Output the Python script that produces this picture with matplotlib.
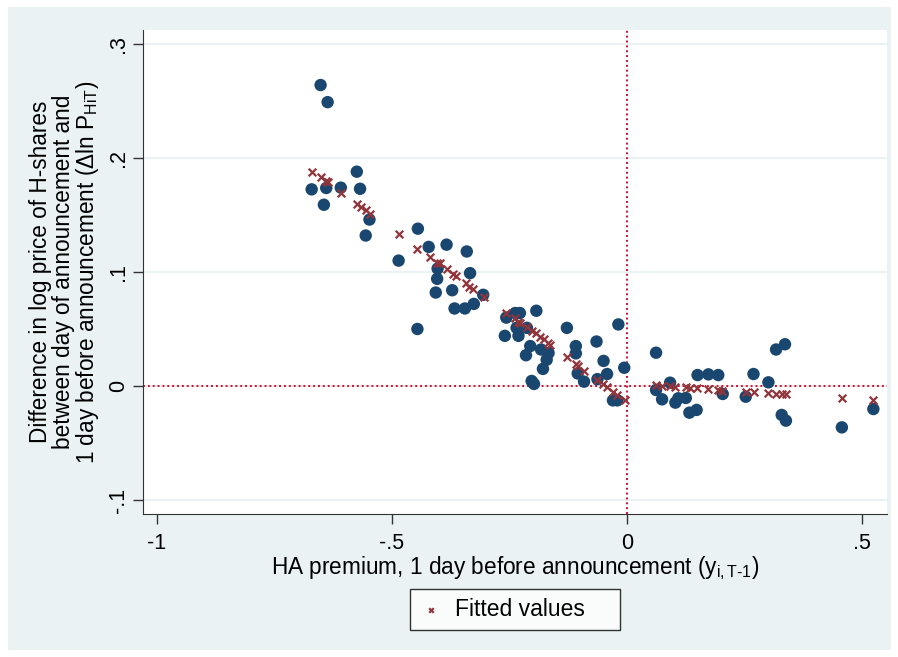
import matplotlib
matplotlib.use('Agg')
import matplotlib.pyplot as plt
from matplotlib.patches import Rectangle

plt.rcParams['font.family'] = ['Liberation Sans', 'DejaVu Sans']
plt.rcParams['mathtext.fontset'] = 'custom'
plt.rcParams['mathtext.rm'] = 'Liberation Sans'
plt.rcParams['mathtext.it'] = 'Liberation Sans:italic'

# 散点 (HA premium, price change)
premium = [-0.652, -0.637, -0.671, -0.640, -0.609, -0.575, -0.568, -0.645, -0.548, -0.556,
           -0.445, -0.486, -0.422, -0.384, -0.341, -0.403, -0.334, -0.404, -0.407, -0.372,
           -0.367, -0.345, -0.326, -0.446, -0.306, -0.260, -0.257, -0.238, -0.228, -0.193,
           -0.231, -0.235, -0.213, -0.206, -0.215, -0.183, -0.167, -0.171, -0.179, -0.203,
           -0.198, -0.128, -0.109, -0.109, -0.065, -0.050, -0.0185, -0.006, -0.105, -0.0915,
           -0.063, -0.0425, -0.030, -0.0206, 0.0617, 0.0617, 0.0915, 0.0745, 0.1028, 0.109,
           0.125, 0.1326, 0.148, 0.150, 0.173, 0.194, 0.2035, 0.2525, 0.269, 0.3007,
           0.317, 0.336, 0.329, 0.338, 0.457, 0.524]
dlnp = [0.264, 0.249, 0.1725, 0.1737, 0.174, 0.188, 0.173, 0.159, 0.146, 0.132,
        0.138, 0.110, 0.122, 0.124, 0.118, 0.103, 0.099, 0.094, 0.082, 0.084,
        0.068, 0.068, 0.072, 0.050, 0.080, 0.044, 0.060, 0.064, 0.064, 0.066,
        0.044, 0.051, 0.051, 0.035, 0.027, 0.032, 0.029, 0.023, 0.015, 0.0044,
        0.0018, 0.051, 0.035, 0.0286, 0.039, 0.022, 0.054, 0.016, 0.011, 0.0038,
        0.006, 0.0105, -0.0126, -0.0126, 0.0292, -0.0035, 0.0029, -0.0117, -0.0146, -0.0108,
        -0.0105, -0.0234, -0.021, 0.0096, 0.0102, 0.0096, -0.007, -0.0094, 0.0105, 0.0032,
        0.032, 0.0366, -0.0254, -0.0304, -0.0363, -0.0202]

# 拟合值 fitted values
fit_x = [-0.670, -0.652, -0.640, -0.637, -0.6085, -0.575, -0.567, -0.555, -0.547, -0.486,
         -0.447, -0.420, -0.4036, -0.399, -0.384, -0.371, -0.364, -0.3425, -0.3355, -0.327,
         -0.3036, -0.2575, -0.238, -0.231, -0.2277, -0.2134, -0.203, -0.1936, -0.185, -0.1766,
         -0.1674, -0.1638, -0.1277, -0.1085, -0.1036, -0.0915, -0.063, -0.0518, -0.043, -0.029,
         -0.0206, -0.004, 0.0617, 0.0738, 0.0915, 0.1028, 0.1255, 0.134, 0.1496, 0.173,
         0.194, 0.2028, 0.2525, 0.269, 0.3007, 0.317, 0.329, 0.338, 0.457, 0.524]
fit_y = [0.188, 0.183, 0.180, 0.179, 0.1696, 0.160, 0.157, 0.154, 0.151, 0.133,
         0.1205, 0.1129, 0.108, 0.1076, 0.1023, 0.098, 0.0965, 0.090, 0.0871, 0.0848,
         0.0783, 0.0643, 0.0594, 0.0564, 0.055, 0.0515, 0.0482, 0.0462, 0.0433, 0.041,
         0.038, 0.0362, 0.0252, 0.0193, 0.0178, 0.0134, 0.0053, 0.0015, -0.0011, -0.005,
         -0.0079, -0.0123, 0.0009, 0.0, 0.0, -0.0006, -0.0012, -0.002, -0.002, -0.0029,
         -0.0035, -0.0044, -0.005, -0.0053, -0.0064, -0.007, -0.007, -0.0073, -0.0102, -0.0123]

xticks = [-1, -0.5, 0, 0.5]
xtick_labels = ['-1', '-.5', '0', '.5']
yticks = [-0.1, 0, 0.1, 0.2, 0.3]
ytick_labels = ['-.1', '0', '.1', '.2', '.3']

bg = '#EAF2F3'
fig = plt.figure(figsize=(8.98, 6.57), dpi=100, facecolor='white')
fig.patches.append(Rectangle((8 / 898, 1 - 650 / 657), 883 / 898, 643 / 657,
                             transform=fig.transFigure, facecolor=bg, edgecolor='none', zorder=-10))
ax = fig.add_axes([143 / 898, 1 - 514 / 657, 744 / 898, 484 / 657])
ax.set_facecolor('white')

ax.scatter(premium, dlnp, s=80, color='#1A476F', edgecolors='none', zorder=3)
ax.scatter(fit_x, fit_y, s=30, marker='x', color='#90353B', linewidths=1.6, zorder=4,
           label='Fitted values    ')

# 参考线
ax.axhline(0, color='#D0102E', linestyle=(0, (1, 1.5)), linewidth=1.4, zorder=2)
ax.axvline(0, color='#D0102E', linestyle=(0, (1, 1.5)), linewidth=1.4, zorder=2)

ax.set_xlim(-1.0298, 0.553)
ax.set_ylim(-0.1123, 0.3123)
ax.set_xticks(xticks, xtick_labels, fontsize=15.5)
ax.set_yticks(yticks, ytick_labels, fontsize=15.5, rotation=90, va='center')
ax.yaxis.grid(True, color=bg, linewidth=1.5, zorder=0)
ax.set_axisbelow(True)
for side in ['top', 'right']:
    ax.spines[side].set_visible(False)
for side in ['left', 'bottom']:
    ax.spines[side].set_color('#333333')
ax.tick_params(direction='out', length=7, width=1, color='#333333')
ax.tick_params(axis='x', pad=7)
ax.tick_params(axis='y', pad=3)

ax.set_xlabel('HA premium, 1 day before announcement (y$_{\\mathrm{i,T\\text{-}1}}$)', fontsize=16.3, labelpad=0)
ax.set_ylabel('Difference in log price of H-shares\nbetween day of announcement and\n'
              '1 day before announcement (\u0394ln P$_{\\mathrm{HiT}}$)', fontsize=16.3,
              labelpad=5, linespacing=0.98)

leg = ax.legend(loc='upper center', bbox_to_anchor=(0.5, -0.155), fontsize=16.5, frameon=True,
                fancybox=False, edgecolor='black', borderpad=0.4, handletextpad=0.55,
                handlelength=1.0, markerscale=0.6, borderaxespad=0)
leg.get_frame().set_linewidth(1.0)

plt.savefig('out.png', dpi=100, facecolor='white')
